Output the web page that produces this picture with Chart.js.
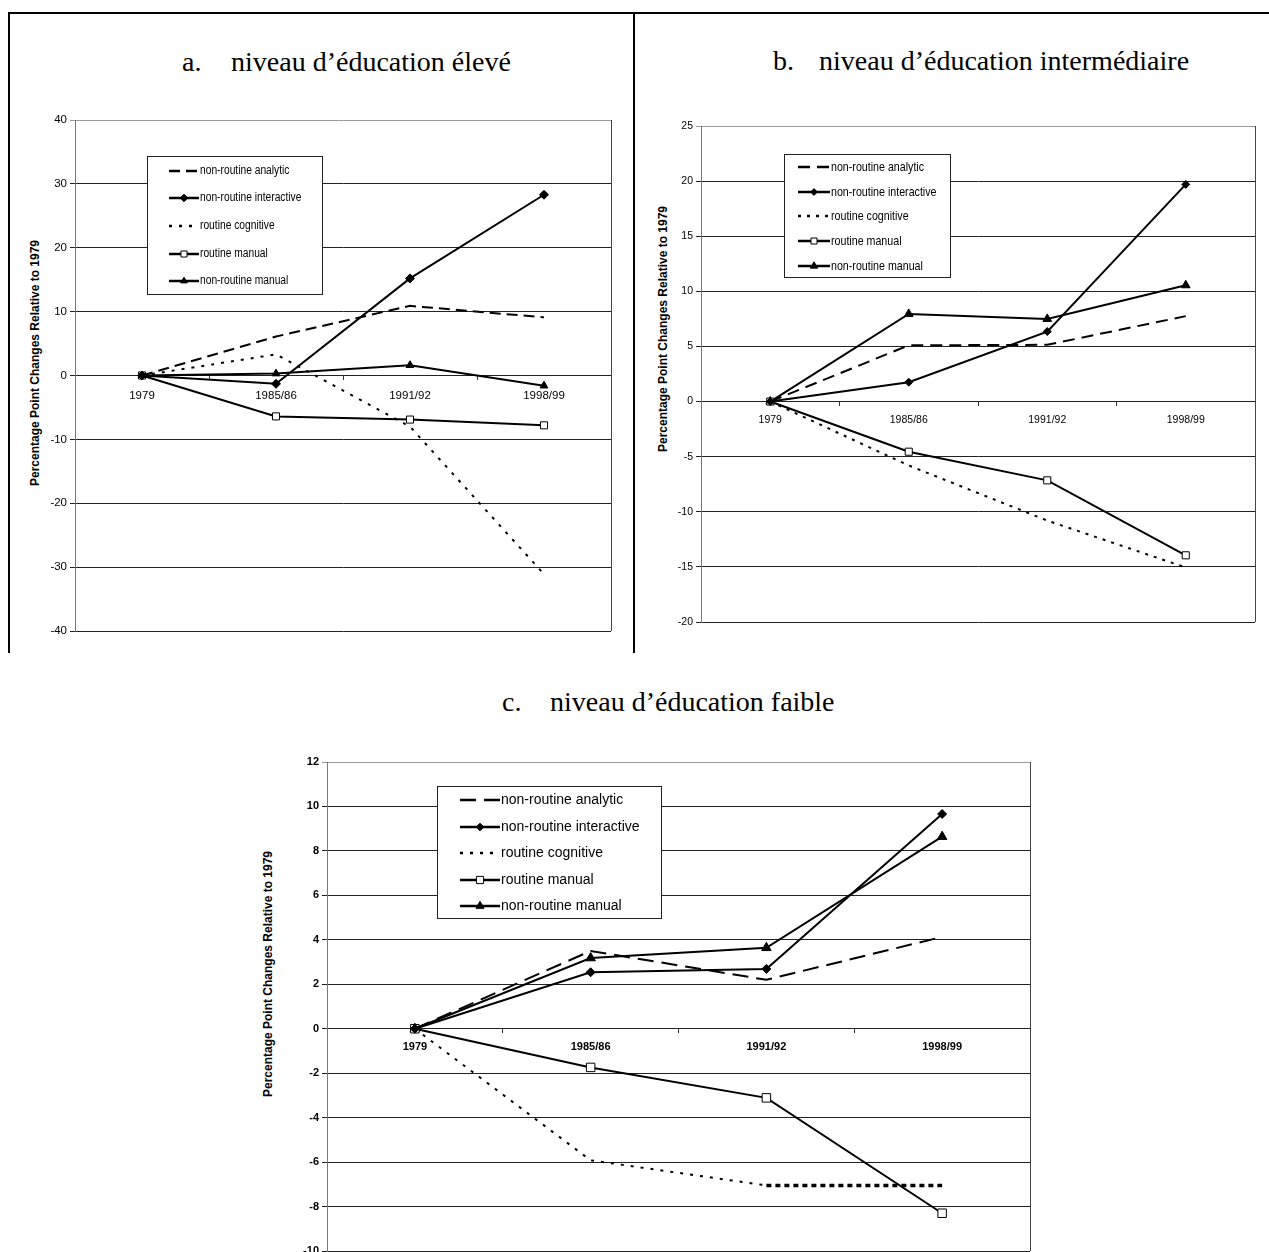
<!DOCTYPE html>
<html>
<head>
<meta charset="utf-8">
<title>Évolution des tâches par niveau d'éducation</title>
<script src="https://cdn.jsdelivr.net/npm/chart.js@4.4.1/dist/chart.umd.min.js"></script>
<style>
  html, body { margin: 0; padding: 0; background: #fff; overflow: hidden; }
  body { width: 1269px; height: 1252px; position: relative; }
  canvas { position: absolute; }
  .frame { position: absolute; background: #000; }
  .title { position: absolute; font-family: 'Liberation Serif', 'Times New Roman', serif; font-size: 28px; line-height: 28px; white-space: nowrap; color: #000; }
  .ytitle { position: absolute; font-family: 'Liberation Sans', Arial, sans-serif; font-weight: bold; font-size: 12px; white-space: nowrap; color: #000;
            transform: translate(-50%, -50%) rotate(-90deg); }
</style>
</head>
<body>
<div class="frame" style="left:8px;top:12px;width:1261px;height:2px"></div>
<div class="frame" style="left:8px;top:12px;width:2px;height:641px"></div>
<div class="frame" style="left:633px;top:12px;width:2px;height:641px"></div>

<span class="title" style="left:182px;top:48px">a.</span>
<span class="title" style="left:231px;top:48px">niveau d’éducation élevé</span>
<span class="title" style="left:773px;top:47px">b.</span>
<span class="title" style="left:819px;top:47px">niveau d’éducation intermédiaire</span>
<span class="title" style="left:502px;top:688px">c.</span>
<span class="title" style="left:550px;top:688px">niveau d’éducation faible</span>

<div class="ytitle" style="left:35px;top:363px">Percentage Point Changes Relative to 1979</div>
<div class="ytitle" style="left:663px;top:329px">Percentage Point Changes Relative to 1979</div>
<div class="ytitle" style="left:268px;top:974px">Percentage Point Changes Relative to 1979</div>

<canvas id="chartHigh" width="592" height="531" style="left:25px;top:110px"></canvas>
<canvas id="chartMid" width="608" height="516" style="left:653px;top:116px"></canvas>
<canvas id="chartLow" width="779" height="509" style="left:258px;top:752px"></canvas>

<script>
const categories = ['1979', '1985/86', '1991/92', '1998/99'];
const seriesNames = ['non-routine analytic', 'non-routine interactive', 'routine cognitive', 'routine manual', 'non-routine manual'];

// a. niveau d'éducation élevé
const highAnalytic = [0, 6.1, 10.9, 9.1];
const highInteractive = [0, -1.3, 15.2, 28.3];
const highCognitive = [0, 3.3, -8.0, -31.1];
const highRoutineManual = [0, -6.4, -6.9, -7.8];
const highNonRoutineManual = [0, 0.3, 1.6, -1.6];
const highRange = [-40, 40, 10];

// b. niveau d'éducation intermédiaire
const midAnalytic = [0, 5.1, 5.15, 7.75];
const midInteractive = [0, 1.76, 6.35, 19.7];
const midCognitive = [0, -5.8, -10.8, -15.05];
const midRoutineManual = [0, -4.55, -7.15, -13.95];
const midNonRoutineManual = [0, 7.95, 7.5, 10.55];
const midRange = [-20, 25, 5];

// c. niveau d'éducation faible
const lowAnalytic = [0, 3.5, 2.2, 4.13];
const lowInteractive = [0, 2.54, 2.69, 9.66];
const lowCognitive = [0, -5.92, -7.05, -7.05];
const lowRoutineManual = [0, -1.74, -3.11, -8.3];
const lowNonRoutineManual = [0, 3.18, 3.64, 8.64];
const lowRange = [-10, 12, 2];

const narrow = "'Liberation Sans Narrow', 'Arial Narrow', 'Liberation Sans', Arial, sans-serif";
const arial = "'Liberation Sans', Arial, sans-serif";

// page positions of canvases, legends etc.
const panels = [
    {
        canvas: 'chartHigh', left: 25, top: 110, axisWidth: 50, range: highRange,
        series: [highAnalytic, highInteractive, highCognitive, highRoutineManual, highNonRoutineManual],
        tickFont: { family: narrow, size: 11.5 }, labelPad: 9,
        dash: [11, 6], dot: [3, 7], width: 2, radius: [4.5, 5, 4.5],
        legend: { box: [147, 156, 322, 294], rows: [171, 198, 226, 254, 281], sample: [169, 199], textX: 200,
                  font: '12.5px ' + arial, squeeze: 0.82 }
    },
    {
        canvas: 'chartMid', left: 653, top: 116, axisWidth: 48, range: midRange,
        series: [midAnalytic, midInteractive, midCognitive, midRoutineManual, midNonRoutineManual],
        tickFont: { family: narrow, size: 10.5 }, labelPad: 8,
        dash: [12, 7], dot: [3, 6], width: 2, radius: [4, 5, 5],
        legend: { box: [784, 154, 950, 277], rows: [167, 192, 216, 241, 266], sample: [798, 830], textX: 831,
                  font: '13px ' + arial, squeeze: 0.82 }
    },
    {
        canvas: 'chartLow', left: 258, top: 752, axisWidth: 69, range: lowRange,
        series: [lowAnalytic, lowInteractive, lowCognitive, lowRoutineManual, lowNonRoutineManual],
        tickFont: { family: arial, size: 11, weight: 'bold' }, labelPad: 8,
        dash: [16, 8], dot: [3, 7], width: 2, radius: [4.5, 6, 5.5],
        cognitiveSegment: {
            borderDash: ctx => ctx.p0DataIndex === 2 ? [5, 4] : undefined,
            borderWidth: ctx => ctx.p0DataIndex === 2 ? 3.5 : undefined
        },
        legend: { box: [437, 786, 661, 918], rows: [800, 827, 853, 880, 906], sample: [460, 500], textX: 501,
                  font: '14px ' + arial, squeeze: 1 }
    }
];

// right edge of the plot area (Chart.js only draws the left axis line)
const plotFrame = {
    id: 'plotFrame',
    beforeDatasetsDraw(chart) {
        const { ctx, chartArea } = chart;
        const x = Math.round(chartArea.right) + 0.5;
        ctx.save();
        ctx.strokeStyle = '#444';
        ctx.lineWidth = 1;
        ctx.beginPath();
        ctx.moveTo(x, chartArea.top);
        ctx.lineTo(x, chartArea.bottom);
        ctx.stroke();
        ctx.restore();
    }
};

// boxed legend sitting inside the plot, like the Excel original
const boxLegend = {
    id: 'boxLegend',
    afterDraw(chart, args, opts) {
        const { ctx } = chart;
        const ox = opts.offset[0], oy = opts.offset[1];
        const [bx0, by0, bx1, by1] = opts.box;
        ctx.save();
        ctx.fillStyle = '#fff';
        ctx.fillRect(bx0 - ox, by0 - oy, bx1 - bx0, by1 - by0);
        ctx.strokeStyle = '#222';
        ctx.lineWidth = 1;
        ctx.strokeRect(bx0 - ox + 0.5, by0 - oy + 0.5, bx1 - bx0, by1 - by0);
        ctx.font = opts.font;
        ctx.textBaseline = 'middle';
        chart.data.datasets.forEach((ds, i) => {
            const y = opts.rows[i] - oy;
            const x0 = opts.sample[0] - ox, x1 = opts.sample[1] - ox;
            ctx.beginPath();
            ctx.setLineDash(ds.borderDash || []);
            ctx.lineWidth = ds.borderWidth + 0.5;
            ctx.strokeStyle = ds.borderColor;
            ctx.moveTo(x0, y);
            ctx.lineTo(x1, y);
            ctx.stroke();
            ctx.setLineDash([]);
            if (ds.pointRadius) {
                ctx.fillStyle = ds.pointBackgroundColor;
                ctx.strokeStyle = ds.pointBorderColor;
                ctx.lineWidth = 1;
                Chart.helpers.drawPoint(ctx, { pointStyle: ds.pointStyle, radius: ds.pointRadius * 0.85, borderWidth: 1, rotation: 0 }, (x0 + x1) / 2, y);
            }
            // the original uses a narrow face; squeeze the regular one
            ctx.save();
            ctx.translate(opts.textX - ox, y);
            ctx.scale(opts.squeeze, 1);
            ctx.fillStyle = '#000';
            ctx.fillText(ds.label, 0, 0);
            ctx.restore();
        });
        ctx.restore();
    }
};

function buildDatasets(p) {
    const [analytic, interactive, cognitive, routineManual, nonRoutineManual] = p.series;
    const base = { borderColor: '#000', borderWidth: p.width, tension: 0, fill: false, borderCapStyle: 'butt' };
    return [
        { ...base, label: seriesNames[0], data: analytic, borderDash: p.dash, pointRadius: 0 },
        { ...base, label: seriesNames[1], data: interactive, pointStyle: 'rectRot', pointRadius: p.radius[0],
          pointBackgroundColor: '#000', pointBorderColor: '#000', pointBorderWidth: 1 },
        { ...base, label: seriesNames[2], data: cognitive, borderDash: p.dot, pointRadius: 0, segment: p.cognitiveSegment || {} },
        { ...base, label: seriesNames[3], data: routineManual, pointStyle: 'rect', pointRadius: p.radius[1],
          pointBackgroundColor: '#fff', pointBorderColor: '#000', pointBorderWidth: 1 },
        { ...base, label: seriesNames[4], data: nonRoutineManual, pointStyle: 'triangle', pointRadius: p.radius[2],
          pointBackgroundColor: '#000', pointBorderColor: '#000', pointBorderWidth: 1 }
    ];
}

panels.forEach(p => {
    const [yMin, yMax, yStep] = p.range;
    new Chart(document.getElementById(p.canvas), {
        type: 'line',
        data: { labels: categories, datasets: buildDatasets(p) },
        options: {
            responsive: false,
            animation: false,
            devicePixelRatio: 1,
            layout: { padding: { top: 10, bottom: 10, right: 5, left: 0 } },
            scales: {
                x: {
                    type: 'category',
                    offset: true,
                    position: { y: 0 },
                    afterFit(scale) { scale.height = 0; },
                    grid: { offset: true, drawOnChartArea: false, drawTicks: true, tickLength: 4, color: '#333' },
                    border: { display: true, color: '#222', width: 1 },
                    ticks: { color: '#000', font: p.tickFont, padding: p.labelPad, maxRotation: 0, autoSkip: false }
                },
                y: {
                    min: yMin,
                    max: yMax,
                    afterFit(scale) { scale.width = p.axisWidth; },
                    ticks: { stepSize: yStep, color: '#000', font: p.tickFont, padding: 3, callback: v => String(v) },
                    grid: { color: ctx => (ctx.tick && ctx.tick.value === yMax) ? '#999' : '#222', tickLength: 5, lineWidth: 1 },
                    border: { color: '#777' }
                }
            },
            plugins: {
                legend: { display: false },
                tooltip: { enabled: false },
                boxLegend: { ...p.legend, offset: [p.left, p.top] }
            }
        },
        plugins: [plotFrame, boxLegend]
    });
});
</script>
</body>
</html>
